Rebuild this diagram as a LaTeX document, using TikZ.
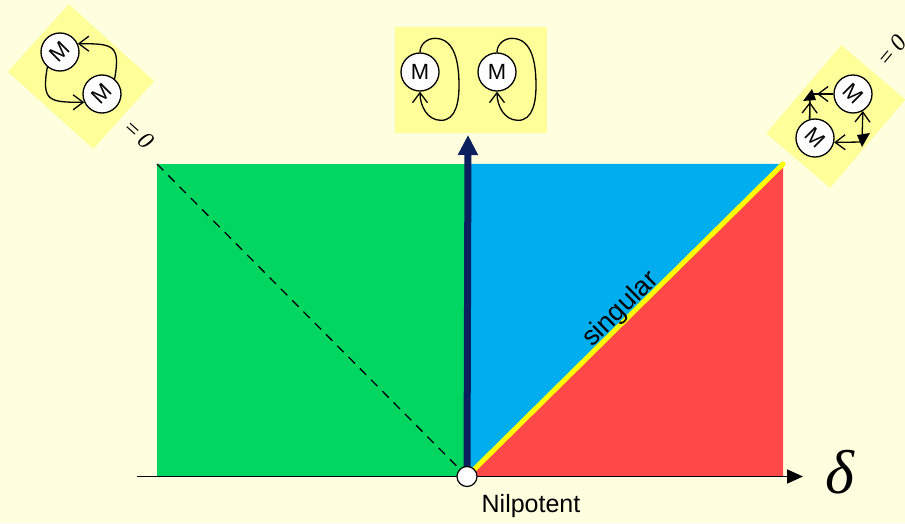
\documentclass[tikz,border=0pt]{standalone}
\usepackage{fontspec}
\usepackage{graphicx}
\setmainfont{Liberation Sans}
\newfontfamily\timesit{Liberation Serif}[UprightFont=* Italic]
\usetikzlibrary{arrows.meta}
\definecolor{bgc}{RGB}{255,255,223}
\definecolor{iconyel}{RGB}{255,255,153}
\definecolor{greenc}{RGB}{0,214,96}
\definecolor{bluec}{RGB}{0,174,239}
\definecolor{redc}{RGB}{255,72,72}
\definecolor{navyc}{RGB}{11,31,94}
\definecolor{linec}{RGB}{255,255,0}
\begin{document}
\begin{tikzpicture}[x=1pt,y=1pt,
  mnode/.style={circle,draw,line width=1.3pt,fill=white,minimum size=38pt,inner sep=0pt,font=\fontsize{22}{22}\selectfont},
  loopline/.style={line width=1.3pt},
  barb/.style={-{Straight Barb[length=10pt,width=15pt,line width=1.3pt]}},
  iconbox/.style={fill=iconyel,inner sep=0pt,draw=none},
  eqzero/.style={font=\fontsize{24}{24}\selectfont\timesit}
]
\fill[bgc] (0,0) rectangle (905,523);
\useasboundingbox (0,0) rectangle (905,523);

% regions
\coordinate (O) at (467,46.5);
\coordinate (TL) at (157,359);
\coordinate (TR) at (783,359);
\coordinate (BR) at (783,46.5);
\coordinate (Otop) at (467,359);
\coordinate (navytip) at (468,388);
\coordinate (A0) at (137,46.5);
\coordinate (A1) at (803,46.5);
\fill[greenc] (157,46.5) rectangle (Otop);
\fill[bluec] (O) -- (Otop) -- (TR) -- cycle;
\fill[redc] (O) -- (BR) -- (TR) -- cycle;
\draw[linec,line width=5pt,line cap=round] (O) -- (TR);
\draw[black,line width=1.3pt,dash pattern=on 9pt off 7pt] (TL) -- (O);
\draw[navyc,line width=7pt,-{Triangle[length=20pt,width=19pt]}] (O) -- (navytip);
\draw[black,line width=1.8pt,-{Triangle[length=16pt,width=14pt]}] (A0) -- (A1);
\node[circle,draw,fill=white,minimum size=20pt,inner sep=0pt,line width=1.2pt] (origin) at (O) {};
\node[anchor=base,font=\fontsize{25}{25}\selectfont] (nil) at (531,10.5) {Nilpotent};
\node[font=\fontsize{62}{62}\selectfont\timesit] (delta) at (840,51) {δ};
\node[rotate=44.7,anchor=base,font=\fontsize{27}{27}\selectfont] (sing) at (626,208.5) {singular};

% middle icon
\node[iconbox,minimum width=152pt,minimum height=106pt] (midbox) at (471,443) {};
\node[mnode] (m1) at (420,451) {M};
\node[mnode] (m2) at (497,451) {M};
\draw[loopline,barb] (m1.north) to[out=90,in=180] ++(15,14) to[out=0,in=90] ++(24,-47)
   to[out=-90,in=0] ++(-18,-35) to[out=180,in=-90] (m1.south);
\draw[loopline,barb] (m2.north) to[out=90,in=180] ++(15,14) to[out=0,in=90] ++(24,-47)
   to[out=-90,in=0] ++(-18,-35) to[out=180,in=-90] (m2.south);

% top-left icon
\node[iconbox,minimum width=115pt,minimum height=91pt,rotate=-42] (tlbox) at (81,446.5) {};
\node[mnode] (p1) at (60,471) {\rotatebox[origin=c]{45}{M}};
\node[mnode] (p2) at (102,429) {\rotatebox[origin=c]{45}{M}};
\draw[loopline,barb] (p2.50) .. controls +(80:35) and +(0:35) .. (p1.25);
\draw[loopline,barb] (p1.230) .. controls +(260:35) and +(180:35) .. (p2.205);
\node[eqzero,rotate=-42] (tlzero) at (139,389) {=\,0};

% top-right icon
\node[iconbox,minimum width=116pt,minimum height=84pt,rotate=49.6] (trbox) at (835.75,406.5) {};
\node[mnode] (qa) at (853,429) {\rotatebox[origin=c]{-45}{M}};
\node[mnode] (qb) at (815,385) {\rotatebox[origin=c]{-45}{M}};
\coordinate (c1) at (810,429);
\coordinate (c2) at (862,381);
\draw[loopline] (qa.west) -- (c1);
\draw[loopline,barb,shorten >=7pt] (qa.west) -- (c1);
\draw[loopline] (qb.106) -- (c1);
\draw[loopline,barb,shorten >=8pt] (qb.106) -- (c1);
\draw[loopline,barb] (c2) -- (qa.-60);
\draw[loopline,barb] (c2) -- (qb.-13);
\fill[black] (803,422) -- (812,434) -- (816,423) -- cycle;
\fill[black] (857,388) -- (870,390) -- (862,376) -- cycle;
\node[eqzero,rotate=50] (trzero) at (892,472) {=\,0};
\end{tikzpicture}
\end{document}
